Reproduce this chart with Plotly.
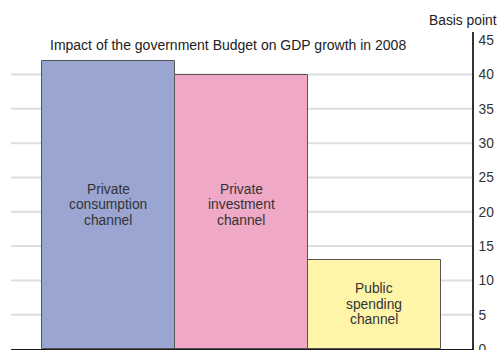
import plotly.graph_objects as go

# Contributions to 2008 GDP growth, in basis points
channels = ["Private<br>consumption<br>channel",
            "Private<br>investment<br>channel",
            "Public<br>spending<br>channel"]
impact_bp = [42, 40, 13]
bar_colors = ["#9aa5d1", "#efa9c6", "#fff5a9"]

# vertical placement of the in-bar captions (basis points)
caption_y = [21, 21, 6.5]

y_ticks = [0, 5, 10, 15, 20, 25, 30, 35, 40, 45]
grid_vals = [5, 10, 15, 20, 25, 30, 35, 40]

FONT = "Liberation Sans, Arial, Helvetica, sans-serif"
LINE_STEP = 15.5  # px between caption lines

x_pos = list(range(len(channels)))

fig = go.Figure()
fig.add_trace(go.Bar(
    x=x_pos, y=impact_bp, width=1,
    marker=dict(color=bar_colors, line=dict(color="#555555", width=1)),
    hoverinfo="skip",
))

# captions inside the bars, one annotation per line for tight leading
for xi, yi, txt in zip(x_pos, caption_y, channels):
    lines = txt.split("<br>")
    mid = (len(lines) - 1) / 2
    for k, line in enumerate(lines):
        fig.add_annotation(x=xi, y=yi, xref="x", yref="y", text=line,
                           showarrow=False, yshift=(mid - k) * LINE_STEP,
                           font=dict(family=FONT, size=13.8, color="#333333"))

# horizontal gridlines behind the bars
for g in grid_vals:
    fig.add_shape(type="line", xref="paper", yref="y", x0=0, x1=1, y0=g, y1=g,
                  line=dict(color="#dedede", width=2), layer="below")

fig.add_annotation(x=0.080, y=0.959, xref="paper", yref="paper",
                   text="Impact of the government Budget on GDP growth in 2008",
                   showarrow=False, xanchor="left", yanchor="middle",
                   font=dict(family=FONT, size=14, color="#222222"))
fig.add_annotation(x=1.0586, y=1.037, xref="paper", yref="paper",
                   text="Basis point", showarrow=False,
                   xanchor="right", yanchor="middle",
                   font=dict(family=FONT, size=13.8, color="#222222"))

fig.update_layout(
    width=502, height=350,
    margin=dict(l=11, r=30, t=32, b=1),
    paper_bgcolor="white", plot_bgcolor="white",
    bargap=0, showlegend=False,
    xaxis=dict(range=[-0.734, 2.737], showticklabels=False, ticks="",
               showgrid=False, zeroline=False, automargin=False,
               showline=True, linecolor="#1a1a1a", linewidth=2),
    yaxis=dict(range=[0, 46.2], side="right", tickvals=y_ticks,
               ticks="", showgrid=False, zeroline=False, automargin=False,
               showline=True, linecolor="#333333", linewidth=1.5,
               ticklabeloverflow="allow", ticklabelstandoff=2,
               tickfont=dict(family=FONT, size=13.8, color="#333333")),
)

fig.write_html("out.html")
